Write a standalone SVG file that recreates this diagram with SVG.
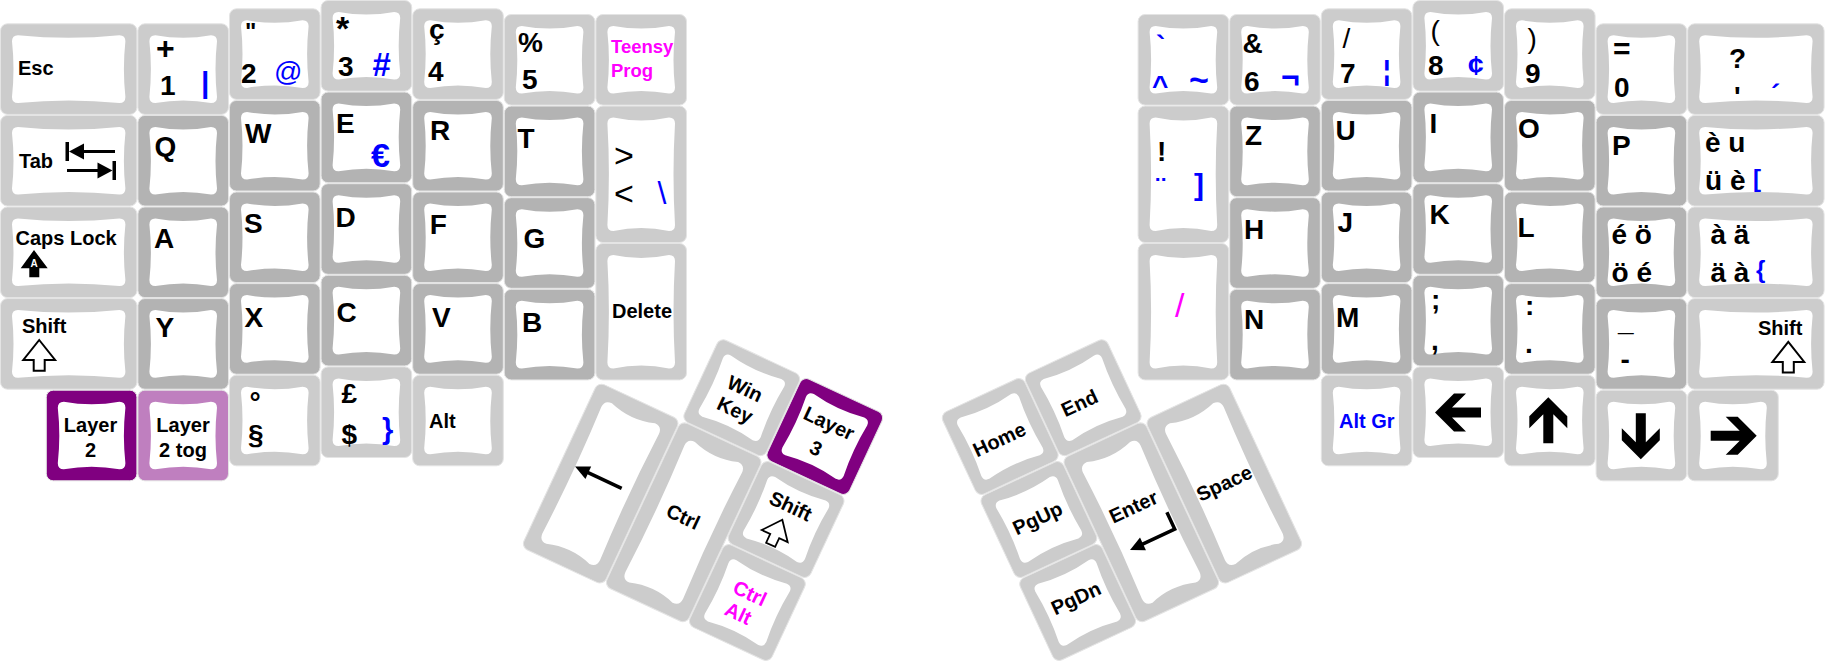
<svg xmlns="http://www.w3.org/2000/svg" width="1825" height="661" viewBox="0 0 1825 661">
<style>
.o{stroke:#e4e4e4;stroke-width:1}
.l{fill:#ccc}.d{fill:#b3b3b3}.p{fill:#800080}.pl{fill:#bf7fbf}
.t{fill:#fff}
text{font-family:"Liberation Sans",Arial,Helvetica,sans-serif;font-weight:bold;font-size:28px;fill:#000}
.m{font-size:20px}
.bl{fill:#00f}
.mg{fill:#f0f}
.n{font-weight:normal}
.c{text-anchor:middle}
.ar{fill:#000}
.sa{fill:#fff;stroke:#000;stroke-width:2}
</style>
<defs>
<path id="t11" class="t" d="M18,12Q45.8,17 73.6,12Q79.6,12 79.6,18Q76.6,45.8 79.6,73.6Q79.6,79.6 73.6,79.6Q45.8,74.6 18,79.6Q12,79.6 12,73.6Q15,45.8 12,18Q12,12 18,12Z"/>
<path id="t15w" class="t" d="M18,12Q68.7,17 119.4,12Q125.4,12 125.4,18Q122.4,45.8 125.4,73.6Q125.4,79.6 119.4,79.6Q68.7,74.6 18,79.6Q12,79.6 12,73.6Q15,45.8 12,18Q12,12 18,12Z"/>
<path id="t15h" class="t" d="M18,12Q45.8,18 73.6,12Q79.6,12 79.6,18Q76.6,68.7 79.6,119.4Q79.6,125.4 73.6,125.4Q45.8,119.4 18,125.4Q12,125.4 12,119.4Q15,68.7 12,18Q12,12 18,12Z"/>
<path id="t2h" class="t" d="M22,14Q45.8,22 69.6,14Q77.6,14 77.6,22Q74.6,91.6 77.6,161.2Q77.6,169.2 69.6,169.2Q45.8,161.2 22,169.2Q14,169.2 14,161.2Q17,91.6 14,22Q14,14 22,14Z"/>
<path id="barrow" class="ar" d="M0,0L19,-19L31,-19L17,-5L46,-5L46,5L17,5L31,19L19,19Z"/>
<path id="sarrow" class="sa" d="M0,-15.3L15.9,4.7L5.5,4.7L5.5,15.4L-5.5,15.4L-5.5,4.7L-15.9,4.7Z"/>
</defs>
<rect width="1825" height="661" fill="#fff"/>

<!-- LEFT HALF -->
<g id="k-esc"><rect class="o l" x="0.5" y="23.8" width="136.4" height="90.6" rx="7"/><use href="#t15w" x="0" y="23.3"/><text class="m" x="18" y="75.3">Esc</text></g>
<g id="k-1"><rect class="o l" x="137.9" y="23.8" width="90.6" height="90.6" rx="7"/><use href="#t11" x="137.4" y="23.3"/><text x="156" y="59" style="font-size:32px">+</text><text x="160" y="95">1</text><text class="bl" x="201" y="92.7" style="font-size:30px">|</text></g>
<g id="k-2"><rect class="o l" x="229.5" y="8.8" width="90.6" height="90.6" rx="7"/><use href="#t11" x="229" y="8.3"/><text x="245" y="40" style="font-size:24px">"</text><text x="241" y="83">2</text><text class="bl n" x="274" y="81">@</text></g>
<g id="k-3"><rect class="o l" x="321.1" y="0.5" width="90.6" height="90.6" rx="7"/><use href="#t11" x="320.6" y="0"/><text x="336" y="40" style="font-size:34px">*</text><text x="338" y="76">3</text><text class="bl" x="372" y="76" style="font-size:33px;font-style:italic">#</text></g>
<g id="k-4"><rect class="o l" x="412.7" y="8.8" width="90.6" height="90.6" rx="7"/><use href="#t11" x="412.2" y="8.3"/><text x="429" y="39">ç</text><text x="428" y="81">4</text></g>
<g id="k-5"><rect class="o l" x="504.3" y="14.5" width="90.6" height="90.6" rx="7"/><use href="#t11" x="503.8" y="14"/><text x="518" y="52">%</text><text x="522" y="89">5</text></g>
<g id="k-teensy"><rect class="o l" x="595.9" y="14.5" width="90.6" height="90.6" rx="7"/><use href="#t11" x="595.4" y="14"/><text class="mg" x="611" y="53" style="font-size:18.5px">Teensy</text><text class="mg" x="611" y="77" style="font-size:18.5px">Prog</text></g>

<g id="k-tab"><rect class="o l" x="0.5" y="115.4" width="136.4" height="90.6" rx="7"/><use href="#t15w" x="0" y="114.9"/><text class="m" x="19" y="168">Tab</text>
<rect class="ar" x="65.5" y="142" width="3.5" height="19"/><path class="ar" d="M69,151.5L84,143.5L84,159.5Z"/><rect class="ar" x="83" y="150" width="32" height="3"/>
<rect class="ar" x="112.5" y="161" width="3.5" height="19"/><path class="ar" d="M112.5,170.5L97.5,162.5L97.5,178.5Z"/><rect class="ar" x="67" y="169" width="31" height="3"/></g>
<g id="k-q"><rect class="o d" x="137.9" y="115.4" width="90.6" height="90.6" rx="7"/><use href="#t11" x="137.4" y="114.9"/><text x="154.5" y="155.5">Q</text></g>
<g id="k-w"><rect class="o d" x="229.5" y="100.4" width="90.6" height="90.6" rx="7"/><use href="#t11" x="229" y="99.9"/><text x="245" y="142.5">W</text></g>
<g id="k-e"><rect class="o d" x="321.1" y="92.1" width="90.6" height="90.6" rx="7"/><use href="#t11" x="320.6" y="91.6"/><text x="336" y="133.3">E</text><text class="bl" x="371" y="166.7" style="font-size:34px">€</text></g>
<g id="k-r"><rect class="o d" x="412.7" y="100.4" width="90.6" height="90.6" rx="7"/><use href="#t11" x="412.2" y="99.9"/><text x="430" y="139.5">R</text></g>
<g id="k-t"><rect class="o d" x="504.3" y="106.1" width="90.6" height="90.6" rx="7"/><use href="#t11" x="503.8" y="105.6"/><text x="517.5" y="148.3">T</text></g>
<g id="k-gtlt"><rect class="o l" x="595.9" y="106.1" width="90.6" height="136.4" rx="7"/><use href="#t15h" x="595.4" y="105.6"/><text class="n" x="614" y="166.5" style="font-size:34px">&gt;</text><text class="n" x="614" y="205" style="font-size:34px">&lt;</text><text class="bl n" x="657.5" y="204" style="font-size:32px">\</text></g>

<g id="k-caps"><rect class="o l" x="0.5" y="207" width="136.4" height="90.6" rx="7"/><use href="#t15w" x="0" y="206.5"/><text class="m" x="15.5" y="245">Caps Lock</text>
<path class="ar" d="M34,250L47.7,268.3L39.3,268.3L39.3,277.3L29.3,277.3L29.3,268.3L20.7,268.3Z"/><text class="c" x="34" y="266.5" style="font-size:10px;fill:#fff">A</text></g>
<g id="k-a"><rect class="o d" x="137.9" y="207" width="90.6" height="90.6" rx="7"/><use href="#t11" x="137.4" y="206.5"/><text x="154" y="248.3">A</text></g>
<g id="k-s"><rect class="o d" x="229.5" y="192" width="90.6" height="90.6" rx="7"/><use href="#t11" x="229" y="191.5"/><text x="244" y="233.3">S</text></g>
<g id="k-d"><rect class="o d" x="321.1" y="183.7" width="90.6" height="90.6" rx="7"/><use href="#t11" x="320.6" y="183.2"/><text x="335.5" y="226.7">D</text></g>
<g id="k-f"><rect class="o d" x="412.7" y="192" width="90.6" height="90.6" rx="7"/><use href="#t11" x="412.2" y="191.5"/><text x="429.7" y="234">F</text></g>
<g id="k-g"><rect class="o d" x="504.3" y="197.7" width="90.6" height="90.6" rx="7"/><use href="#t11" x="503.8" y="197.2"/><text x="523.5" y="248.3">G</text></g>
<g id="k-delete"><rect class="o l" x="595.9" y="243.5" width="90.6" height="136.4" rx="7"/><use href="#t15h" x="595.4" y="243"/><text class="m" x="612" y="318.3">Delete</text></g>

<g id="k-lshift"><rect class="o l" x="0.5" y="298.6" width="136.4" height="90.6" rx="7"/><use href="#t15w" x="0" y="298.1"/><text class="m" x="22" y="333.3">Shift</text><use href="#sarrow" x="39.2" y="355.3"/></g>
<g id="k-y"><rect class="o d" x="137.9" y="298.6" width="90.6" height="90.6" rx="7"/><use href="#t11" x="137.4" y="298.1"/><text x="155.5" y="336.7">Y</text></g>
<g id="k-x"><rect class="o d" x="229.5" y="283.6" width="90.6" height="90.6" rx="7"/><use href="#t11" x="229" y="283.1"/><text x="244.5" y="326.7">X</text></g>
<g id="k-c"><rect class="o d" x="321.1" y="275.3" width="90.6" height="90.6" rx="7"/><use href="#t11" x="320.6" y="274.8"/><text x="336.5" y="322">C</text></g>
<g id="k-v"><rect class="o d" x="412.7" y="283.6" width="90.6" height="90.6" rx="7"/><use href="#t11" x="412.2" y="283.1"/><text x="432" y="326.7">V</text></g>
<g id="k-b"><rect class="o d" x="504.3" y="289.3" width="90.6" height="90.6" rx="7"/><use href="#t11" x="503.8" y="288.8"/><text x="522" y="331.7">B</text></g>

<g id="k-layer2"><rect class="o p" x="46.3" y="390.2" width="90.6" height="90.6" rx="7"/><use href="#t11" x="45.8" y="389.7"/><text class="m c" x="90.5" y="431.6">Layer</text><text class="m c" x="90.5" y="456.7">2</text></g>
<g id="k-layer2tog"><rect class="o pl" x="137.9" y="390.2" width="90.6" height="90.6" rx="7"/><use href="#t11" x="137.4" y="389.7"/><text class="m c" x="183" y="431.6">Layer</text><text class="m c" x="183" y="456.7">2 tog</text></g>
<g id="k-para"><rect class="o l" x="229.5" y="375.2" width="90.6" height="90.6" rx="7"/><use href="#t11" x="229" y="374.7"/><text x="249.5" y="412">°</text><text x="248" y="444">§</text></g>
<g id="k-pound"><rect class="o l" x="321.1" y="366.9" width="90.6" height="90.6" rx="7"/><use href="#t11" x="320.6" y="366.4"/><text x="341.5" y="402.7">£</text><text x="341.5" y="443.5">$</text><text class="bl" x="382" y="438.8" style="font-size:29px">}</text></g>
<g id="k-alt"><rect class="o l" x="412.7" y="375.2" width="90.6" height="90.6" rx="7"/><use href="#t11" x="412.2" y="374.7"/><text class="m" x="429" y="428.3">Alt</text></g>

<!-- LEFT THUMB CLUSTER -->
<g id="left-thumb" transform="translate(636.6,298.2) rotate(25)">
<g id="k-win"><rect class="o l" x="92.1" y="0.5" width="90.6" height="90.6" rx="7"/><use href="#t11" x="91.6" y="0"/><text class="m c" x="136.5" y="43">Win</text><text class="m c" x="136.5" y="66.6">Key</text></g>
<g id="k-layer3"><rect class="o p" x="183.7" y="0.5" width="90.6" height="90.6" rx="7"/><use href="#t11" x="183.2" y="0"/><text class="m c" x="227.3" y="39">Layer</text><text class="m c" x="226" y="67.2">3</text></g>
<g id="k-bksp"><rect class="o l" x="0.5" y="92.1" width="90.6" height="182.2" rx="7"/><use href="#t2h" x="0" y="91.6"/><path d="M28,178.6L66.8,178.6" stroke="#000" stroke-width="3.5"/><path class="ar" d="M15.4,178.6L30,171.8L30,185.4Z"/></g>
<g id="k-lctrl"><rect class="o l" x="92.1" y="92.1" width="90.6" height="182.2" rx="7"/><use href="#t2h" x="91.6" y="91.6"/><text class="m c" x="134.6" y="185.3">Ctrl</text></g>
<g id="k-tshift"><rect class="o l" x="183.7" y="92.1" width="90.6" height="90.6" rx="7"/><use href="#t11" x="183.2" y="91.6"/><text class="m c" x="227.5" y="130.2">Shift</text><use href="#sarrow" transform="translate(225.7,153) scale(0.9)"/></g>
<g id="k-ctrlalt"><rect class="o l" x="183.7" y="183.7" width="90.6" height="90.6" rx="7"/><use href="#t11" x="183.2" y="183.2"/><text class="m c mg" x="227.5" y="226.5">Ctrl</text><text class="m c mg" x="225.4" y="249.6">Alt</text></g>
</g>

<!-- RIGHT THUMB CLUSTER -->
<g id="right-thumb" transform="translate(1188.4,298.2) rotate(-25)">
<g id="k-home"><rect class="o l" x="-274.3" y="0.5" width="90.6" height="90.6" rx="7"/><use href="#t11" x="-274.8" y="0"/><text class="m c" x="-231" y="55">Home</text></g>
<g id="k-end"><rect class="o l" x="-182.7" y="0.5" width="90.6" height="90.6" rx="7"/><use href="#t11" x="-183.2" y="0"/><text class="m c" x="-143" y="56">End</text></g>
<g id="k-pgup"><rect class="o l" x="-274.3" y="92.1" width="90.6" height="90.6" rx="7"/><use href="#t11" x="-274.8" y="91.6"/><text class="m c" x="-229.7" y="142.6">PgUp</text></g>
<g id="k-pgdn"><rect class="o l" x="-274.3" y="183.7" width="90.6" height="90.6" rx="7"/><use href="#t11" x="-274.8" y="183.2"/><text class="m c" x="-228.7" y="231.3">PgDn</text></g>
<g id="k-enter"><rect class="o l" x="-182.7" y="92.1" width="90.6" height="182.2" rx="7"/><use href="#t2h" x="-183.2" y="91.6"/><text class="m c" x="-138" y="172.7">Enter</text><path d="M-110,185L-110,203.5L-146,203.5" fill="none" stroke="#000" stroke-width="3.5"/><path class="ar" d="M-159.3,203.5L-145,196.5L-145,210.5Z"/></g>
<g id="k-space"><rect class="o l" x="-91.1" y="92.1" width="90.6" height="182.2" rx="7"/><use href="#t2h" x="-91.6" y="91.6"/><text class="m c" x="-45.7" y="189.8">Space</text></g>
</g>

<!-- RIGHT HALF -->
<g id="k-grave"><rect class="o l" x="1138.1" y="14.5" width="90.6" height="90.6" rx="7"/><use href="#t11" x="1137.6" y="14"/><text class="bl" x="1156" y="55">`</text><text class="bl" x="1152" y="95">^</text><text class="bl" x="1189" y="90.6" style="font-size:34px">~</text></g>
<g id="k-excl"><rect class="o l" x="1138.1" y="106.1" width="90.6" height="136.4" rx="7"/><use href="#t15h" x="1137.6" y="105.6"/><text x="1157" y="161">!</text><text class="bl" x="1156" y="197">¨</text><text class="bl" x="1194" y="195.4" style="font-size:30px">]</text></g>
<g id="k-slash"><rect class="o l" x="1138.1" y="243.5" width="90.6" height="136.4" rx="7"/><use href="#t15h" x="1137.6" y="243"/><text class="mg n" x="1175" y="317" style="font-size:34px">/</text></g>
<g id="k-6"><rect class="o l" x="1229.7" y="14.5" width="90.6" height="90.6" rx="7"/><use href="#t11" x="1229.2" y="14"/><text x="1242.5" y="53.3">&amp;</text><text x="1244" y="90.7">6</text><text class="bl" x="1281" y="88" style="font-size:32px">¬</text></g>
<g id="k-7"><rect class="o l" x="1321.3" y="8.8" width="90.6" height="90.6" rx="7"/><use href="#t11" x="1320.8" y="8.3"/><text class="n" x="1342.5" y="47.5" style="font-size:28px">/</text><text x="1340" y="83.3">7</text><text class="bl" x="1383" y="79.5" style="font-size:27px">¦</text></g>
<g id="k-8"><rect class="o l" x="1412.9" y="0.5" width="90.6" height="90.6" rx="7"/><use href="#t11" x="1412.4" y="0"/><text class="n" x="1430.5" y="39.5" style="font-size:28px">(</text><text x="1428" y="75">8</text><text class="bl" x="1468" y="75">¢</text></g>
<g id="k-9"><rect class="o l" x="1504.5" y="8.8" width="90.6" height="90.6" rx="7"/><use href="#t11" x="1504" y="8.3"/><text class="n" x="1527.5" y="47.5" style="font-size:28px">)</text><text x="1525" y="82.7">9</text></g>
<g id="k-0"><rect class="o l" x="1596.1" y="23.8" width="90.6" height="90.6" rx="7"/><use href="#t11" x="1595.6" y="23.3"/><text x="1613" y="58.8" style="font-size:30px">=</text><text x="1614" y="96.7">0</text></g>
<g id="k-quest"><rect class="o l" x="1687.7" y="23.8" width="136.4" height="90.6" rx="7"/><use href="#t15w" x="1687.2" y="23.3"/><text x="1729" y="68.3">?</text><text x="1734" y="106">'</text><text class="bl" x="1771" y="104">´</text></g>

<g id="k-z"><rect class="o d" x="1229.7" y="106.1" width="90.6" height="90.6" rx="7"/><use href="#t11" x="1229.2" y="105.6"/><text x="1245" y="145">Z</text></g>
<g id="k-u"><rect class="o d" x="1321.3" y="100.4" width="90.6" height="90.6" rx="7"/><use href="#t11" x="1320.8" y="99.9"/><text x="1335.5" y="140">U</text></g>
<g id="k-i"><rect class="o d" x="1412.9" y="92.1" width="90.6" height="90.6" rx="7"/><use href="#t11" x="1412.4" y="91.6"/><text x="1429.5" y="133.3">I</text></g>
<g id="k-o"><rect class="o d" x="1504.5" y="100.4" width="90.6" height="90.6" rx="7"/><use href="#t11" x="1504" y="99.9"/><text x="1518" y="138.3">O</text></g>
<g id="k-p"><rect class="o d" x="1596.1" y="115.4" width="90.6" height="90.6" rx="7"/><use href="#t11" x="1595.6" y="114.9"/><text x="1612" y="155">P</text></g>
<g id="k-egrave"><rect class="o l" x="1687.7" y="115.4" width="136.4" height="90.6" rx="7"/><use href="#t15w" x="1687.2" y="114.9"/><text x="1705" y="151.7">è u</text><text x="1705" y="190">ü è</text><text class="bl" x="1753" y="186.7" style="font-size:24px">[</text></g>

<g id="k-h"><rect class="o d" x="1229.7" y="197.7" width="90.6" height="90.6" rx="7"/><use href="#t11" x="1229.2" y="197.2"/><text x="1244" y="239">H</text></g>
<g id="k-j"><rect class="o d" x="1321.3" y="192" width="90.6" height="90.6" rx="7"/><use href="#t11" x="1320.8" y="191.5"/><text x="1337.5" y="232.3">J</text></g>
<g id="k-k"><rect class="o d" x="1412.9" y="183.7" width="90.6" height="90.6" rx="7"/><use href="#t11" x="1412.4" y="183.2"/><text x="1429.5" y="224">K</text></g>
<g id="k-l"><rect class="o d" x="1504.5" y="192" width="90.6" height="90.6" rx="7"/><use href="#t11" x="1504" y="191.5"/><text x="1517.5" y="236.7">L</text></g>
<g id="k-eacute"><rect class="o d" x="1596.1" y="207" width="90.6" height="90.6" rx="7"/><use href="#t11" x="1595.6" y="206.5"/><text x="1611.5" y="244">é ö</text><text x="1611.5" y="281.7">ö é</text></g>
<g id="k-agrave"><rect class="o l" x="1687.7" y="207" width="136.4" height="90.6" rx="7"/><use href="#t15w" x="1687.2" y="206.5"/><text x="1710.5" y="244">à ä</text><text x="1710.5" y="281.7">ä à</text><text class="bl" x="1756" y="278.3" style="font-size:24px">{</text></g>

<g id="k-n"><rect class="o d" x="1229.7" y="289.3" width="90.6" height="90.6" rx="7"/><use href="#t11" x="1229.2" y="288.8"/><text x="1244" y="329.3">N</text></g>
<g id="k-m"><rect class="o d" x="1321.3" y="283.6" width="90.6" height="90.6" rx="7"/><use href="#t11" x="1320.8" y="283.1"/><text x="1336" y="326.7">M</text></g>
<g id="k-comma"><rect class="o d" x="1412.9" y="275.3" width="90.6" height="90.6" rx="7"/><use href="#t11" x="1412.4" y="274.8"/><text x="1431" y="309">;</text><text x="1431" y="349.5">,</text></g>
<g id="k-period"><rect class="o d" x="1504.5" y="283.6" width="90.6" height="90.6" rx="7"/><use href="#t11" x="1504" y="283.1"/><text x="1525" y="315">:</text><text x="1525" y="353.3">.</text></g>
<g id="k-minus"><rect class="o d" x="1596.1" y="298.6" width="90.6" height="90.6" rx="7"/><use href="#t11" x="1595.6" y="298.1"/><text x="1618" y="330.5">_</text><text x="1620.5" y="369">-</text></g>
<g id="k-rshift"><rect class="o l" x="1687.7" y="298.6" width="136.4" height="90.6" rx="7"/><use href="#t15w" x="1687.2" y="298.1"/><text class="m" x="1758" y="335">Shift</text><use href="#sarrow" x="1788.3" y="357.2"/></g>

<g id="k-altgr"><rect class="o l" x="1321.3" y="375.2" width="90.6" height="90.6" rx="7"/><use href="#t11" x="1320.8" y="374.7"/><text class="m bl" x="1339" y="428.3">Alt Gr</text></g>
<g id="k-left"><rect class="o l" x="1412.9" y="366.9" width="90.6" height="90.6" rx="7"/><use href="#t11" x="1412.4" y="366.4"/><use href="#barrow" transform="translate(1435,412.5)"/></g>
<g id="k-up"><rect class="o l" x="1504.5" y="375.2" width="90.6" height="90.6" rx="7"/><use href="#t11" x="1504" y="374.7"/><use href="#barrow" transform="translate(1548.3,397.3) rotate(90)"/></g>
<g id="k-down"><rect class="o l" x="1596.1" y="390.2" width="90.6" height="90.6" rx="7"/><use href="#t11" x="1595.6" y="389.7"/><use href="#barrow" transform="translate(1640.8,459.3) rotate(-90)"/></g>
<g id="k-right"><rect class="o l" x="1687.7" y="390.2" width="90.6" height="90.6" rx="7"/><use href="#t11" x="1687.2" y="389.7"/><use href="#barrow" transform="translate(1756.7,435.8) rotate(180)"/></g>
</svg>
